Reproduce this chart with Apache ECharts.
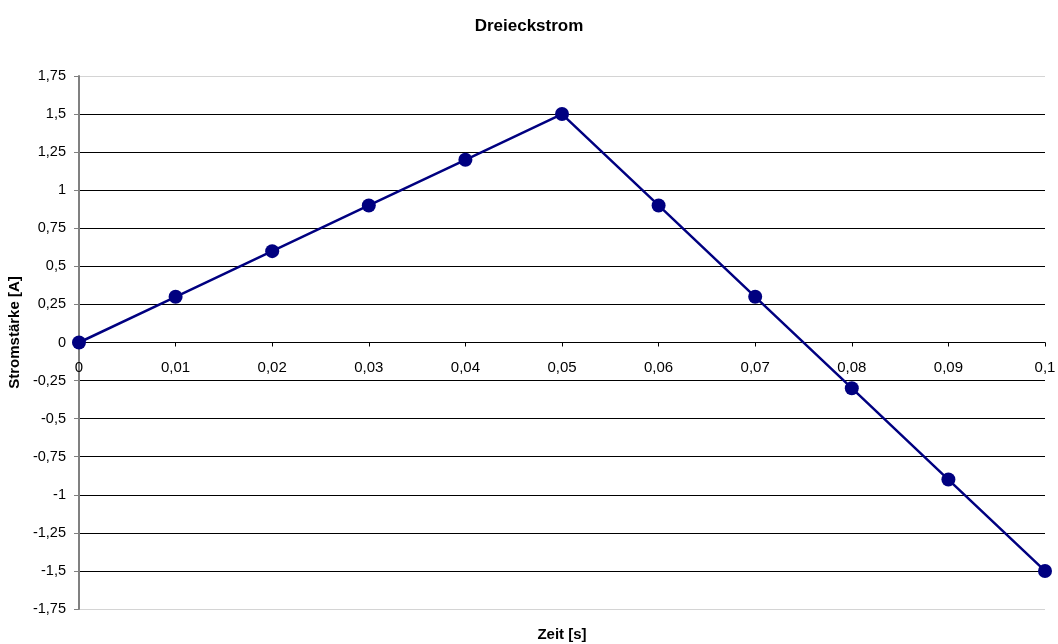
<!DOCTYPE html>
<html>
<head>
<meta charset="utf-8">
<script src="https://cdn.jsdelivr.net/npm/echarts@6/dist/echarts.min.js"></script>
<style>
  html, body { margin: 0; padding: 0; background: #fff; }
  #chart { width: 1058px; height: 644px; }
</style>
</head>
<body>
<div id="chart"></div>
<script>
// Zeitpunkte (s) und Stromstärke (A) des Dreieckstroms
const zeit = [0, 0.01, 0.02, 0.03, 0.04, 0.05, 0.06, 0.07, 0.08, 0.09, 0.1];
const strom = [0, 0.3, 0.6, 0.9, 1.2, 1.5, 0.9, 0.3, -0.3, -0.9, -1.5];

const fmt = v => String(Math.round(v * 1000) / 1000).replace('.', ',');

// Gitterlinien: Rand oben/unten hellgrau, innen schwarz
const gridColors = [];
for (let i = 0; i <= 14; i++) gridColors.push(i === 0 || i === 14 ? '#d4d4d4' : '#000');

const GRID_TOP = 76, GRID_BOTTOM = 35, H = 644;
// Zeitachse auf der Nulllinie: Abstand vom unteren Rand des Diagrammbereichs
const plotH = H - GRID_TOP - GRID_BOTTOM;
const zeroShift = -plotH / 2;

const chart = echarts.init(document.getElementById('chart'));
chart.setOption({
  animation: false,
  textStyle: { fontFamily: 'Liberation Sans, Arial, sans-serif' },
  title: {
    text: 'Dreieckstrom',
    left: 'center',
    top: 13,
    textStyle: { fontSize: 17, fontWeight: 'bold', color: '#000' }
  },
  grid: { left: 79, right: 13, top: GRID_TOP, bottom: GRID_BOTTOM, containLabel: false, outerBoundsMode: 'none' },
  xAxis: {
    type: 'value',
    position: 'bottom',
    offset: zeroShift,
    min: 0, max: 0.1, interval: 0.01,
    name: 'Zeit [s]',
    nameLocation: 'middle',
    nameGap: 285,
    nameTextStyle: { fontSize: 15, fontWeight: 'bold', color: '#000' },
    axisLine: { onZero: false, lineStyle: { color: '#000', width: 1 } },
    axisTick: { inside: false, length: 4, lineStyle: { color: '#000' } },
    axisLabel: { formatter: fmt, fontSize: 15, color: '#000', margin: 18 },
    splitLine: { show: false }
  },
  yAxis: {
    type: 'value',
    min: -1.75, max: 1.75, interval: 0.25,
    name: 'Stromstärke [A]',
    nameLocation: 'middle',
    nameGap: 40,
    nameRotate: 90,
    nameTextStyle: { fontSize: 15, fontWeight: 'bold', color: '#000', padding: [0, 0, 0, 20] },
    axisLine: { show: true, lineStyle: { color: '#808080', width: 2 } },
    axisTick: { show: true, length: 5, lineStyle: { color: '#808080' } },
    axisLabel: { formatter: fmt, fontSize: 14.5, color: '#000', margin: 13 },
    splitLine: { show: true, lineStyle: { color: gridColors, width: 1 } }
  },
  series: [{
    type: 'line',
    data: zeit.map((t, i) => [t, strom[i]]),
    symbol: 'circle',
    symbolSize: 14,
    itemStyle: { color: '#000080' },
    lineStyle: { color: '#000080', width: 2.5 }
  }]
});
</script>
</body>
</html>
